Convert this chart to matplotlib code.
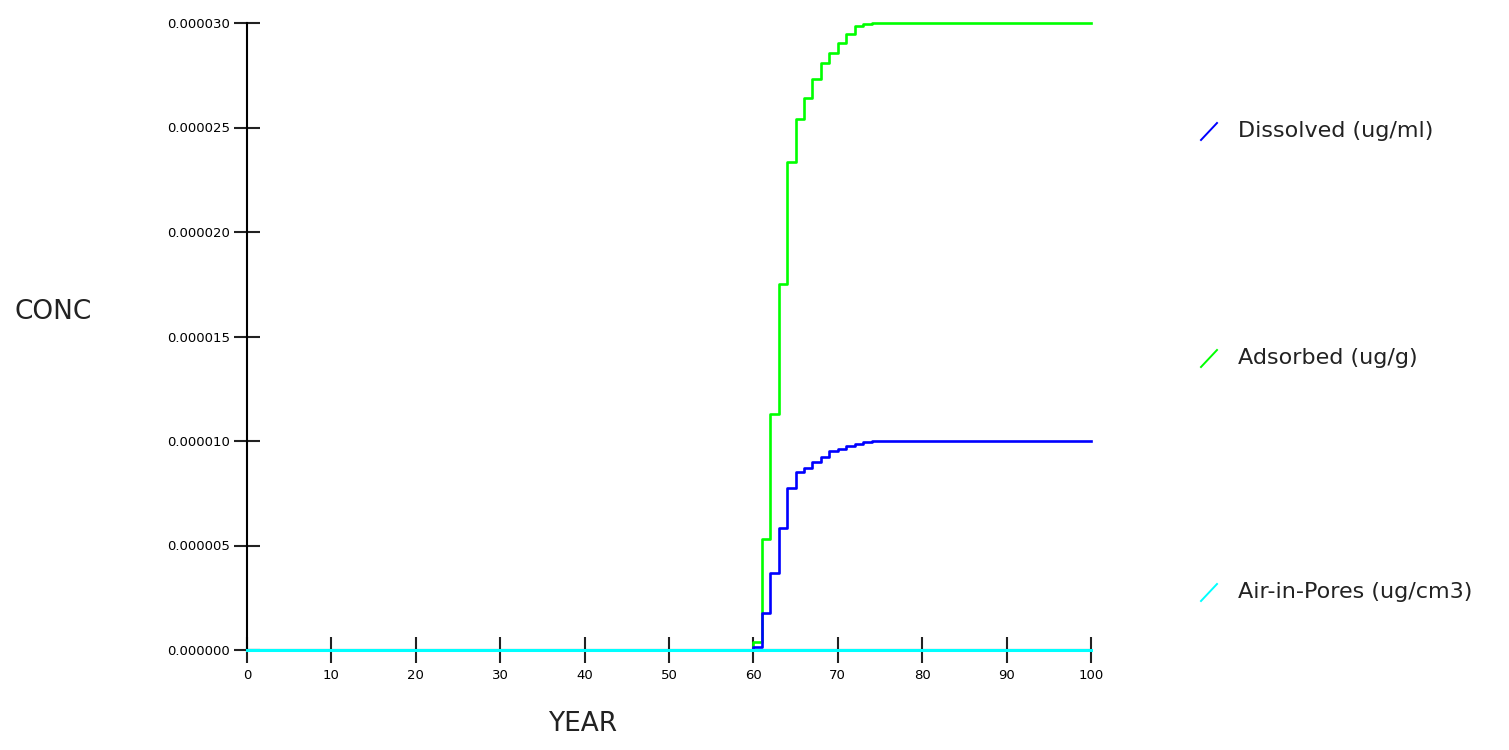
import matplotlib
matplotlib.use('Agg')
import matplotlib.pyplot as plt
from matplotlib.lines import Line2D

# データ (濃度は 1e-6 単位で読み取り)
years = [0, 60, 61, 62, 63, 64, 65, 66, 67, 68, 69, 70, 71, 72, 73, 74, 100]
dissolved = [0, 0.16, 1.75, 3.67, 5.85, 7.73, 8.5, 8.72, 9.01, 9.25, 9.52, 9.62, 9.76, 9.88, 9.93, 10.0, 10.0]
adsorbed = [0, 0.4, 5.3, 11.3, 17.5, 23.33, 25.4, 26.4, 27.3, 28.07, 28.55, 29.06, 29.46, 29.86, 29.97, 30.0, 30.0]
air_in_pores = [0] * len(years)

labels = ['Dissolved (ug/ml)', 'Adsorbed (ug/g)', 'Air-in-Pores (ug/cm3)']
colors = ['#0000ff', '#00ff00', '#00ffff']
x_ticks = list(range(0, 101, 10))
y_ticks = [0, 5e-6, 10e-6, 15e-6, 20e-6, 25e-6, 30e-6]


def scale(values):
    return [v * 1e-6 for v in values]


fig = plt.figure(figsize=(15.09, 7.5), dpi=100)
ax = fig.add_axes([247 / 1509, 100 / 750, 844 / 1509, 627 / 750])

ax.plot(years, scale(adsorbed), drawstyle='steps-post', color=colors[1], lw=1.9, clip_on=False, zorder=3)
ax.plot(years, scale(dissolved), drawstyle='steps-post', color=colors[0], lw=1.9, clip_on=False, zorder=4)
ax.plot(years, scale(air_in_pores), drawstyle='steps-post', color=colors[2], lw=2.2, clip_on=False, zorder=5)

ax.set_xlim(0, 100)
ax.set_ylim(0, 30e-6)
ax.set_xticks(x_ticks)
ax.set_xticklabels([str(t) for t in x_ticks], fontsize=9.5)
ax.set_yticks(y_ticks)
ax.set_yticklabels([f'{t:.6f}' for t in y_ticks], fontsize=9.5)
ax.tick_params(direction='inout', length=19, width=1.5, color='#222222', pad=3)
ax.tick_params(axis='x', pad=4)

for side in ['top', 'right']:
    ax.spines[side].set_visible(False)
ax.spines['left'].set_linewidth(1.5)
ax.spines['bottom'].set_linewidth(1.5)

fig.text(15 / 1509, 1 - 312 / 750, 'CONC', fontsize=19, va='center', ha='left', color='#222222')
fig.text(583 / 1509, 1 - 724 / 750, 'YEAR', fontsize=19, va='center', ha='center', color='#222222')

# 凡例 (斜めの短い線 + テキスト)
legend_y = [131, 358, 592]
for label, color, y in zip(labels, colors, legend_y):
    fig.add_artist(Line2D([1201 / 1509, 1217 / 1509], [1 - (y + 9) / 750, 1 - (y - 8) / 750],
                          transform=fig.transFigure, color=color, lw=1.4))
    fig.text(1238 / 1509, 1 - y / 750, label, fontsize=16, va='center', ha='left', color='#222222')

plt.savefig('out.png', dpi=100)
